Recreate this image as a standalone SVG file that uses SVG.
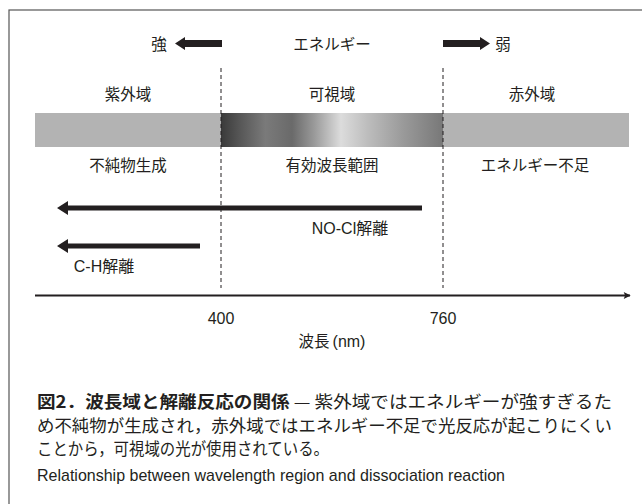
<svg xmlns="http://www.w3.org/2000/svg" width="642" height="504" viewBox="0 0 642 504">
<style>
.t{font-family:"Noto Sans CJK JP","Liberation Sans",sans-serif;font-size:15.5px;fill:#231f20;text-anchor:middle}
.n{font-family:"Liberation Sans","Noto Sans CJK JP",sans-serif;font-size:16px;fill:#231f20;text-anchor:middle}
.dash{stroke:#231f20;stroke-width:1;stroke-dasharray:4,3;fill:none}
.cap{font-family:"Noto Sans CJK JP",sans-serif;font-size:17px;fill:#231f20}
.capb{font-weight:bold}
.en{font-family:"Liberation Sans","Noto Sans",sans-serif;font-size:17px;fill:#231f20}
</style>
<defs>
<linearGradient id="vis" x1="0" x2="1" y1="0" y2="0">
<stop offset="0" stop-color="#3a3a3a"/>
<stop offset="0.08" stop-color="#555"/>
<stop offset="0.2" stop-color="#7a7a7a"/>
<stop offset="0.32" stop-color="#6a6a6a"/>
<stop offset="0.42" stop-color="#9a9a9a"/>
<stop offset="0.54" stop-color="#dcdcdc"/>
<stop offset="0.66" stop-color="#bdbdbd"/>
<stop offset="0.82" stop-color="#9a9a9a"/>
<stop offset="1" stop-color="#787878"/>
</linearGradient>
<marker id="ah" viewBox="0 0 10 10" refX="9" refY="5" markerWidth="10" markerHeight="7" markerUnits="userSpaceOnUse" orient="auto">
<path d="M0,0 L10,5 L0,10 L2,5 Z" fill="#231f20"/>
</marker>
</defs>
<rect x="9" y="10" width="650" height="510" fill="#fff" stroke="#555" stroke-width="1.2"/>

<g id="energy">
<text class="t" x="159" y="50">強</text>
<path id="arrow-strong" d="M222,40 L185,40 L185,37 L175,43.5 L185,50 L185,47 L222,47 Z" fill="#231f20"/>
<text class="t" x="332" y="50">エネルギー</text>
<path id="arrow-weak" d="M443,40 L480,40 L480,37 L490,43.5 L480,50 L480,47 L443,47 Z" fill="#231f20"/>
<text class="t" x="503" y="50">弱</text>
</g>

<g id="band">
<rect x="35" y="113" width="186" height="34" fill="#b3b3b3"/>
<rect x="221" y="113" width="222" height="34" fill="url(#vis)"/>
<rect x="443" y="113" width="186" height="34" fill="#b3b3b3"/>
</g>

<g id="dividers">
<line class="dash" x1="221" y1="68" x2="221" y2="288"/>
<line class="dash" x1="443" y1="68" x2="443" y2="288"/>
</g>

<g id="uv"><text class="t" x="128" y="100">紫外域</text><text class="t" x="128" y="171">不純物生成</text></g>
<g id="visible"><text class="t" x="332" y="100">可視域</text><text class="t" x="332" y="171">有効波長範囲</text></g>
<g id="ir"><text class="t" x="532" y="100">赤外域</text><text class="t" x="535" y="171">エネルギー不足</text></g>

<g id="connectors">
<path id="arrow-nocl" d="M422,205.5 L68,205.5 L68,201 L57,208 L68,215 L68,210.5 L422,210.5 Z" fill="#231f20"/>
<path id="arrow-ch" d="M200,243.5 L68,243.5 L68,239 L57,246 L68,253 L68,248.5 L200,248.5 Z" fill="#231f20"/>
<line id="axis" x1="35" y1="295.5" x2="630" y2="295.5" stroke="#231f20" stroke-width="2" marker-end="url(#ah)"/>
</g>

<g id="labels">
<text class="n" x="350" y="234">NO-Cl解離</text>
<text class="n" x="104" y="272">C-H解離</text>
<text class="n" x="221" y="324">400</text>
<text class="n" x="443" y="324">760</text>
<text class="t" x="332" y="347">波長<tspan dx="3" font-family="Liberation Sans, sans-serif" font-size="16px">(nm)</tspan></text>
</g>

<g id="caption">
<text class="cap" x="37" y="408" textLength="575" lengthAdjust="spacingAndGlyphs"><tspan class="capb">図2．波長域と解離反応の関係</tspan> — 紫外域ではエネルギーが強すぎるた</text>
<text class="cap" x="37" y="432" textLength="575" lengthAdjust="spacingAndGlyphs">め不純物が生成され，赤外域ではエネルギー不足で光反応が起こりにくい</text>
<text class="cap" x="37" y="455" textLength="292" lengthAdjust="spacingAndGlyphs">ことから，可視域の光が使用されている。</text>
<text class="en" x="37" y="481" textLength="468" lengthAdjust="spacingAndGlyphs">Relationship between wavelength region and dissociation reaction</text>
</g>
</svg>
